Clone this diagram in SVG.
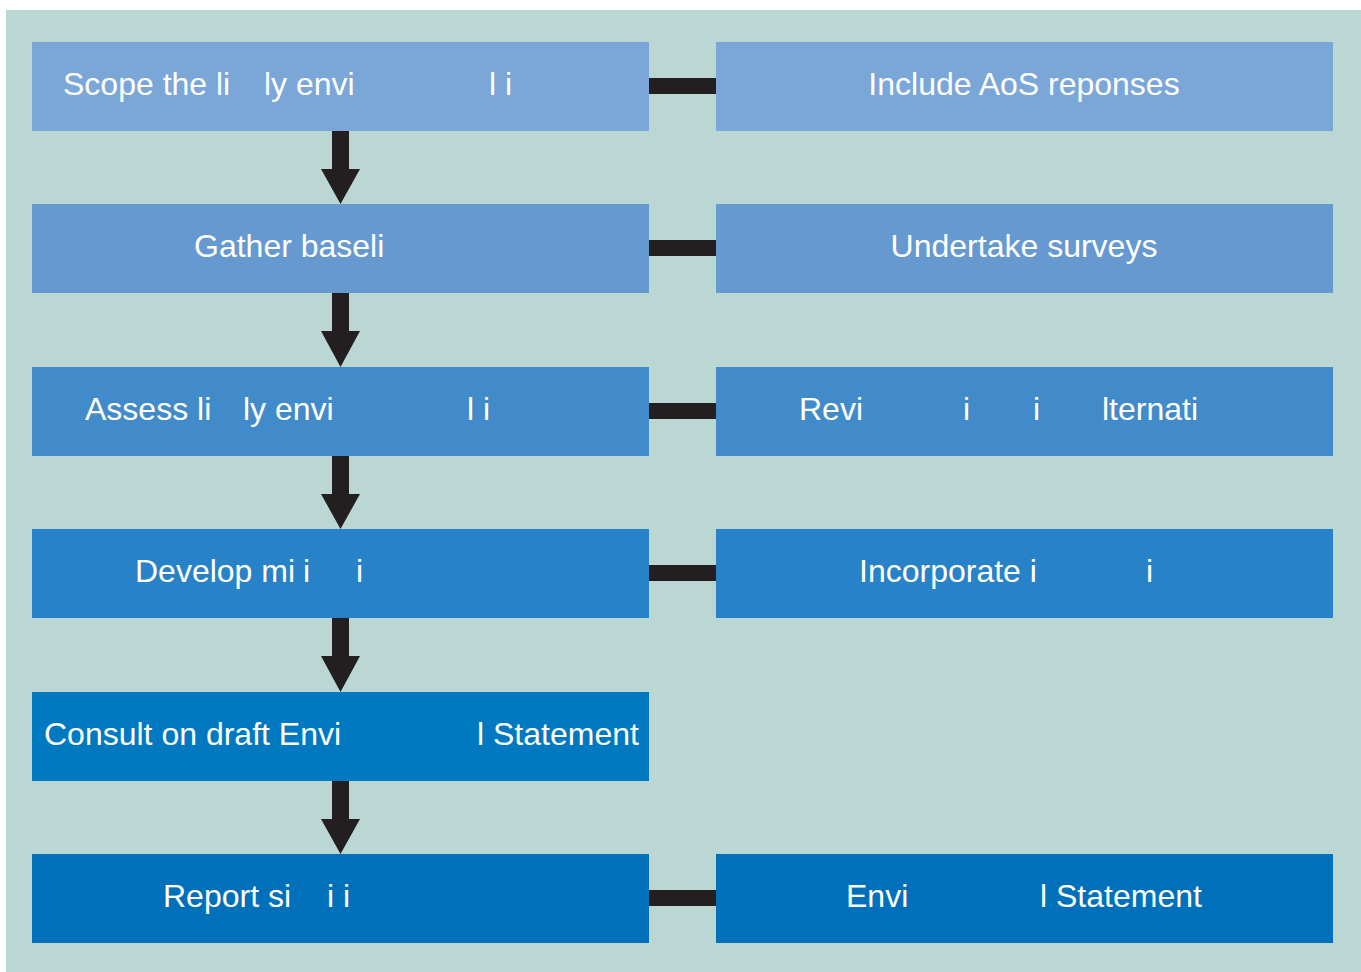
<svg xmlns="http://www.w3.org/2000/svg" width="1361" height="972" viewBox="0 0 1361 972">
<style>
text{font-family:"Liberation Sans",Arial,sans-serif;font-size:32px;fill:#ffffff}
.bar{fill:#231f20}
.arrow{fill:#231f20}
</style>
<rect x="0" y="0" width="1361" height="972" fill="#ffffff"/>
<rect x="6" y="10" width="1355" height="962" fill="#bad7d4"/>
<g id="connectors">
<rect class="bar" x="649" y="78" width="67" height="16"/>
<rect class="bar" x="649" y="240" width="67" height="16"/>
<rect class="bar" x="649" y="403" width="67" height="16"/>
<rect class="bar" x="649" y="565" width="67" height="16"/>
<rect class="bar" x="649" y="890" width="67" height="16"/>
<path class="arrow" d="M332 131H349V169H360L340.5 204L321 169H332Z"/>
<path class="arrow" d="M332 293H349V331H360L340.5 367L321 331H332Z"/>
<path class="arrow" d="M332 456H349V494H360L340.5 529L321 494H332Z"/>
<path class="arrow" d="M332 618H349V656H360L340.5 692L321 656H332Z"/>
<path class="arrow" d="M332 781H349V819H360L340.5 854L321 819H332Z"/>
</g>
<g id="n1"><rect x="32" y="42" width="617" height="89" fill="#7ba6d8"/><text y="95"><tspan x="63">Scope the li</tspan><tspan x="264">ly envi</tspan><tspan x="489">l i</tspan></text></g>
<g id="n1r"><rect x="716" y="42" width="617" height="89" fill="#7ba6d8"/><text x="1024" y="95" text-anchor="middle">Include AoS reponses</text></g>
<g id="n2"><rect x="32" y="204" width="617" height="89" fill="#6699d0"/><text x="194" y="257">Gather baseli</text></g>
<g id="n2r"><rect x="716" y="204" width="617" height="89" fill="#6699d0"/><text x="1024" y="257" text-anchor="middle">Undertake surveys</text></g>
<g id="n3"><rect x="32" y="367" width="617" height="89" fill="#428bca"/><text y="420"><tspan x="85">Assess li</tspan><tspan x="243">ly envi</tspan><tspan x="467">l i</tspan></text></g>
<g id="n3r"><rect x="716" y="367" width="617" height="89" fill="#428bca"/><text y="420"><tspan x="799">Revi</tspan><tspan x="963">i</tspan><tspan x="1033">i</tspan><tspan x="1102">lternati</tspan></text></g>
<g id="n4"><rect x="32" y="529" width="617" height="89" fill="#2882c8"/><text y="582"><tspan x="135">Develop mi</tspan><tspan x="303">i</tspan><tspan x="356">i</tspan></text></g>
<g id="n4r"><rect x="716" y="529" width="617" height="89" fill="#2882c8"/><text y="582"><tspan x="859">Incorporate i</tspan><tspan x="1146">i</tspan></text></g>
<g id="n5"><rect x="32" y="692" width="617" height="89" fill="#0079c1"/><text y="745"><tspan x="44">Consult on draft Envi</tspan><tspan x="477">l Statement</tspan></text></g>
<g id="n6"><rect x="32" y="854" width="617" height="89" fill="#0070ba"/><text y="907"><tspan x="163">Report si</tspan><tspan x="327">i i</tspan></text></g>
<g id="n6r"><rect x="716" y="854" width="617" height="89" fill="#0070ba"/><text y="907"><tspan x="846">Envi</tspan><tspan x="1040">l Statement</tspan></text></g>
</svg>
